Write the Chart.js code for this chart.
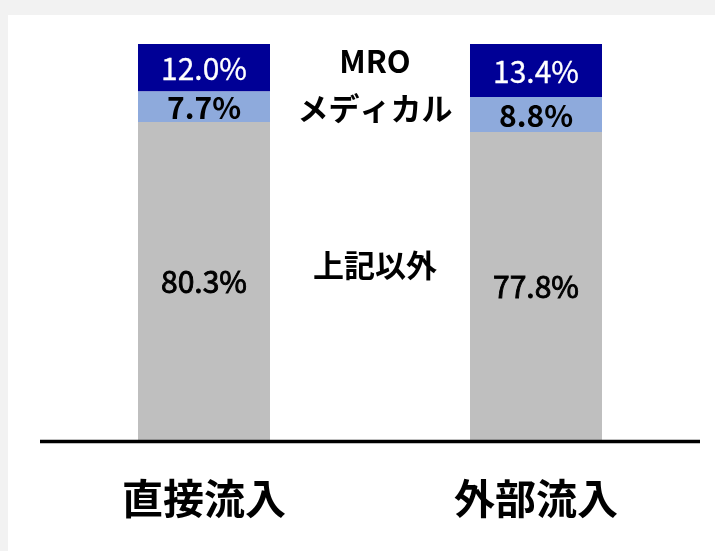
<!DOCTYPE html>
<html>
<head>
<meta charset="utf-8">
<script src="https://cdn.jsdelivr.net/npm/chart.js@4/dist/chart.umd.min.js"></script>
<style>
  html, body { margin: 0; padding: 0; background: #f2f2f2; overflow: hidden; }
  #panel { position: absolute; left: 8px; top: 15px; width: 707px; height: 536px; background: #fff; }
</style>
</head>
<body>
<div id="panel"><canvas id="c" width="707" height="536"></canvas></div>
<script>
const categories = ['直接流入', '外部流入'];
const seriesNames = ['上記以外', 'メディカル', 'MRO'];
const otherValues = [80.3, 77.8];
const medicalValues = [7.7, 8.8];
const mroValues = [12.0, 13.4];

const FONT = '"Noto Sans CJK JP", "Noto Sans", sans-serif';

// value labels, series names between the bars, category names and base line
const textPlugin = {
  id: 'texts',
  afterDatasetsDraw(chart) {
    const ctx = chart.ctx;
    const area = chart.chartArea;
    const xs = chart.scales.x;
    ctx.save();
    ctx.textAlign = 'center';
    ctx.textBaseline = 'middle';

    const labelStyle = [
      { color: '#000', font: '30px ' + FONT, stroke: 0.9 },
      { color: '#000', font: 'bold 30px ' + FONT, stroke: 0 },
      { color: '#fff', font: '30px ' + FONT, stroke: 0.3 }
    ];
    chart.data.datasets.forEach((ds, di) => {
      const st = labelStyle[di];
      chart.getDatasetMeta(di).data.forEach((bar, i) => {
        const txt = ds.data[i].toFixed(1) + '%';
        const y = (bar.y + bar.base) / 2 + 1;
        ctx.fillStyle = st.color;
        ctx.font = st.font;
        ctx.fillText(txt, bar.x, y);
        if (st.stroke) {
          ctx.strokeStyle = st.color;
          ctx.lineWidth = st.stroke;
          ctx.strokeText(txt, bar.x, y);
        }
      });
    });

    // series names in the gap between the two bars
    const midX = (xs.getPixelForValue(0) + xs.getPixelForValue(1)) / 2 + 5;
    const shift = [-18, -2, -8];
    ctx.fillStyle = '#000';
    ctx.font = 'bold 31px ' + FONT;
    chart.data.datasets.forEach((ds, di) => {
      const bars = chart.getDatasetMeta(di).data;
      let mid = 0;
      bars.forEach(b => { mid += (b.y + b.base) / 2; });
      mid /= bars.length;
      ctx.fillText(ds.label, midX, mid + shift[di]);
    });

    // base line
    ctx.strokeStyle = '#000';
    ctx.lineWidth = 3.5;
    ctx.beginPath();
    ctx.moveTo(area.left + 2, area.bottom + 1.5);
    ctx.lineTo(area.right - 2, area.bottom + 1.5);
    ctx.stroke();

    // category names
    ctx.font = 'bold 41px ' + FONT;
    categories.forEach((c, i) => {
      ctx.fillText(c, xs.getPixelForValue(i), area.bottom + 58);
    });
    ctx.restore();
  }
};

new Chart(document.getElementById('c'), {
  type: 'bar',
  data: {
    labels: categories,
    datasets: [
      { label: seriesNames[0], data: otherValues, backgroundColor: '#bfbfbf' },
      { label: seriesNames[1], data: medicalValues, backgroundColor: '#8eaadc' },
      { label: seriesNames[2], data: mroValues, backgroundColor: '#000096' }
    ]
  },
  options: {
    responsive: false,
    animation: false,
    layout: { padding: { left: 30, right: 13, top: 29, bottom: 111 } },
    datasets: { bar: { barPercentage: 1, categoryPercentage: 0.3976 } },
    plugins: { legend: { display: false }, tooltip: { enabled: false } },
    scales: {
      x: { stacked: true, display: false },
      y: { stacked: true, display: false, min: 0, max: 100 }
    }
  },
  plugins: [textPlugin]
});
</script>
</body>
</html>
